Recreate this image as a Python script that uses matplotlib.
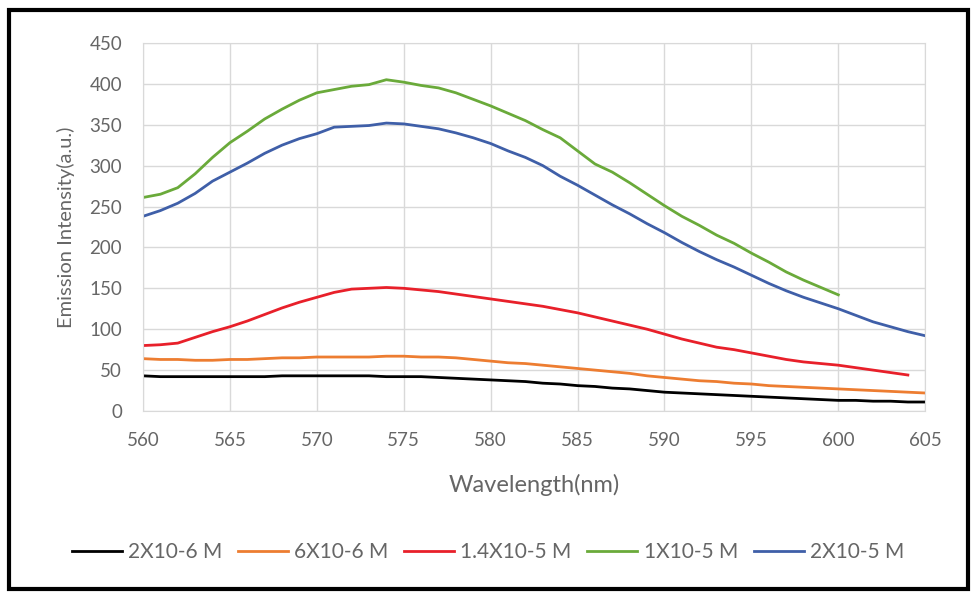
import matplotlib.pyplot as plt
from matplotlib.patches import Rectangle

plt.rcParams['font.family'] = ['Lato', 'DejaVu Sans']

# longitud de onda (nm)
wl = list(range(560, 606))

black = [43, 42, 42, 42, 42, 42, 42, 42, 43, 43, 43, 43, 43, 43, 42, 42, 42, 41, 40, 39,
         38, 37, 36, 34, 33, 31, 30, 28, 27, 25, 23, 22, 21, 20, 19, 18, 17, 16, 15, 14,
         13, 13, 12, 12, 11, 11]
orange = [64, 63, 63, 62, 62, 63, 63, 64, 65, 65, 66, 66, 66, 66, 67, 67, 66, 66, 65, 63,
          61, 59, 58, 56, 54, 52, 50, 48, 46, 43, 41, 39, 37, 36, 34, 33, 31, 30, 29, 28,
          27, 26, 25, 24, 23, 22]
red = [80, 81, 83, 90, 97, 103, 110, 118, 126, 133, 139, 145, 149, 150, 151, 150, 148, 146, 143, 140,
       137, 134, 131, 128, 124, 120, 115, 110, 105, 100, 94, 88, 83, 78, 75, 71, 67, 63, 60, 58,
       56, 53, 50, 47, 44]
green = [261, 265, 273, 290, 310, 328, 342, 357, 369, 380, 389, 393, 397, 399, 405, 402, 398, 395, 389, 381,
         373, 364, 355, 344, 334, 318, 302, 292, 279, 265, 251, 238, 227, 215, 205, 193, 182, 170, 160, 151,
         142]
blue = [238, 245, 254, 266, 281, 292, 303, 315, 325, 333, 339, 347, 348, 349, 352, 351, 348, 345, 340, 334,
        327, 318, 310, 300, 287, 276, 264, 252, 241, 229, 218, 206, 195, 185, 176, 166, 156, 147, 139, 132,
        125, 117, 109, 103, 97, 92]

labels = ['2X10-6 M', '6X10-6 M', '1.4X10-5 M', '1X10-5 M', '2X10-5 M']
colors = ['#000000', '#ED7D31', '#E8202A', '#6AAA3A', '#3F5FA8']
series = [black, orange, red, green, blue]

fig = plt.figure(figsize=(9.76, 5.96), dpi=100)
ax = fig.add_axes([0.1465, 0.3104, 0.8015, 0.6176])

for ys, c, lab in zip(series, colors, labels):
    ax.plot(wl[:len(ys)], ys, color=c, lw=2, label=lab)

txt = '#666666'
ax.set_xlim(560, 605)
ax.set_ylim(0, 450)
ax.set_xticks(range(560, 606, 5))
ax.set_yticks(range(0, 451, 50))
ax.grid(True, color='#D9D9D9', lw=1)
ax.set_axisbelow(True)
for s in ax.spines.values():
    s.set_color('#D9D9D9')
ax.tick_params(axis='x', length=0, labelsize=13.5, colors=txt, pad=15)
ax.tick_params(axis='y', length=0, labelsize=13.5, colors=txt, pad=15)
ax.set_xlabel('Wavelength(nm)', fontsize=17, color=txt, labelpad=18)
ax.set_ylabel('Emission Intensity(a.u.)', fontsize=14.5, color=txt, labelpad=10)

fig.legend(loc='center', bbox_to_anchor=(0.5, 0.073), ncol=5, frameon=False,
           fontsize=15, labelcolor=txt, handlelength=2.4, columnspacing=0.75, handletextpad=0.3)

# marco negro alrededor de la figura
fig.patches.append(Rectangle((0.009, 0.011), 0.983, 0.973, transform=fig.transFigure,
                             fill=False, edgecolor='black', lw=3))

fig.savefig('out.png', dpi=100)
